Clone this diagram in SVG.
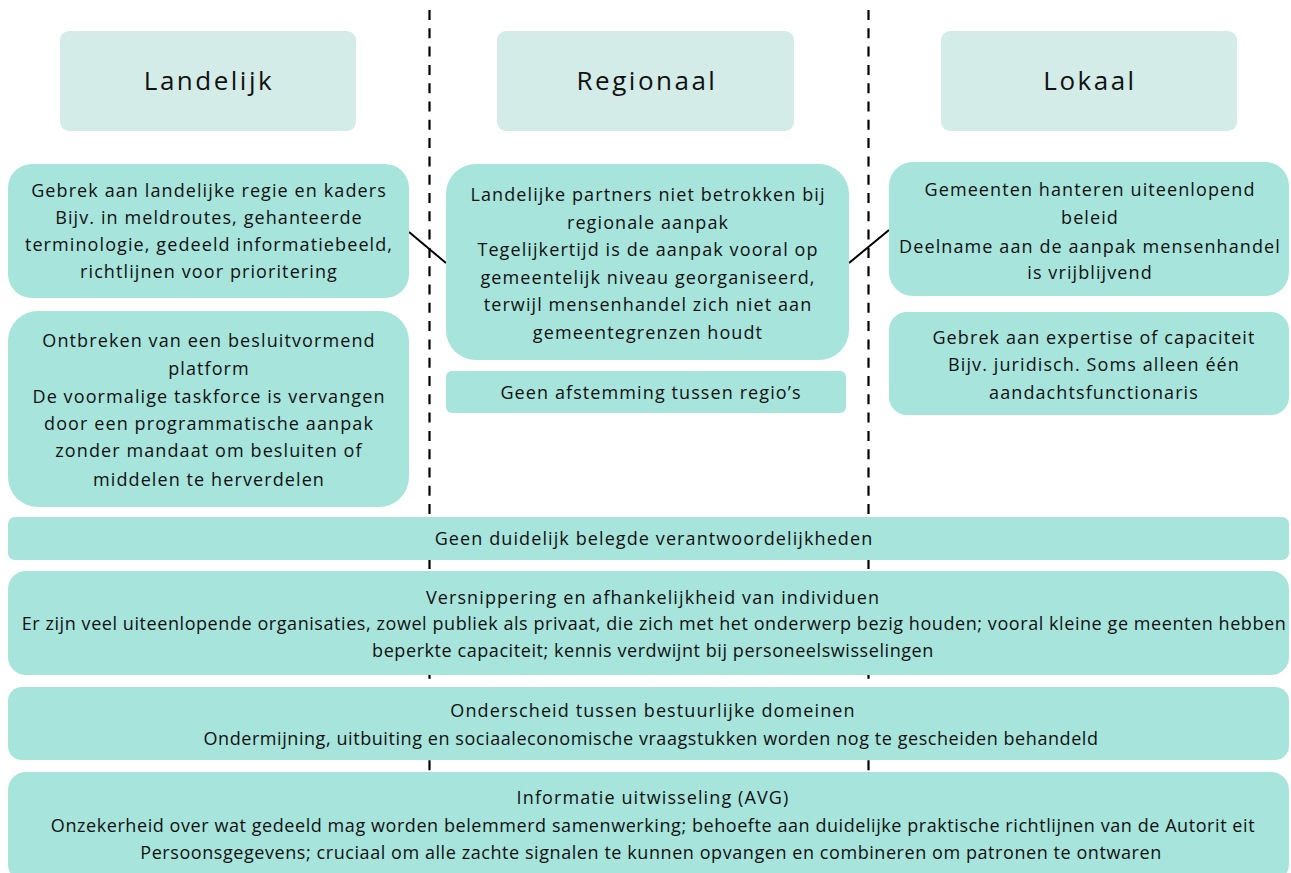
<svg xmlns="http://www.w3.org/2000/svg" width="1291" height="873" viewBox="0 0 1291 873">
<style>
.hdr{fill:#d3ece8}
.box{fill:#a6e4dc}
.t{font-family:"Open Sans","Liberation Sans",sans-serif;font-size:18px;letter-spacing:1.1px;fill:#111;text-anchor:middle}
.d{letter-spacing:0.57px}
.h{font-family:"Open Sans","Liberation Sans",sans-serif;font-size:26px;letter-spacing:2.5px;fill:#111;text-anchor:middle}
.dash{stroke:#000;stroke-width:2.2;stroke-dasharray:10 8.3;fill:none}
.conn{stroke:#000;stroke-width:2;fill:none}
</style>
<rect width="1291" height="873" fill="#fff"/>
<g id="dividers">
<line class="dash" x1="429.5" y1="10" x2="429.5" y2="772"/>
<line class="dash" x1="868.5" y1="10" x2="868.5" y2="772"/>
</g>
<g id="hdr-landelijk"><rect class="hdr" x="60" y="31" width="296" height="100" rx="9"/><text class="h" x="209" y="90">Landelijk</text></g>
<g id="hdr-regionaal"><rect class="hdr" x="497" y="31" width="297" height="100" rx="9"/><text class="h" x="647" y="90">Regionaal</text></g>
<g id="hdr-lokaal"><rect class="hdr" x="941" y="31" width="296" height="100" rx="9"/><text class="h" x="1090" y="90">Lokaal</text></g>
<g id="connectors">
<line class="conn" x1="409" y1="232" x2="446" y2="263"/>
<line class="conn" x1="849" y1="263" x2="889" y2="230"/>
</g>
<g id="l1"><rect class="box" x="8" y="164" width="401" height="134" rx="24"/>
<text class="t" x="209" y="197">Gebrek aan landelijke regie en kaders</text>
<text class="t" x="209" y="224">Bijv. in meldroutes, gehanteerde</text>
<text class="t" x="209" y="251">terminologie, gedeeld informatiebeeld,</text>
<text class="t" x="209" y="278">richtlijnen voor prioritering</text></g>
<g id="l2"><rect class="box" x="8" y="311" width="401" height="196" rx="30"/>
<text class="t" x="209" y="347">Ontbreken van een besluitvormend</text>
<text class="t" x="209" y="375">platform</text>
<text class="t" x="209" y="403">De voormalige taskforce is vervangen</text>
<text class="t" x="209" y="430">door een programmatische aanpak</text>
<text class="t" x="209" y="457">zonder mandaat om besluiten of</text>
<text class="t" x="209" y="486">middelen te herverdelen</text></g>
<g id="m1"><rect class="box" x="446" y="164" width="403" height="196" rx="30"/>
<text class="t" x="648" y="201">Landelijke partners niet betrokken bij</text>
<text class="t" x="648" y="229">regionale aanpak</text>
<text class="t" x="648" y="256">Tegelijkertijd is de aanpak vooral op</text>
<text class="t" x="648" y="284">gemeentelijk niveau georganiseerd,</text>
<text class="t" x="648" y="311">terwijl mensenhandel zich niet aan</text>
<text class="t" x="648" y="339">gemeentegrenzen houdt</text></g>
<g id="m2"><rect class="box" x="446" y="371" width="400" height="42" rx="6"/>
<text class="t" x="651" y="399">Geen afstemming tussen regio’s</text></g>
<g id="r1"><rect class="box" x="889" y="162" width="400" height="134" rx="24"/>
<text class="t" x="1090" y="196">Gemeenten hanteren uiteenlopend</text>
<text class="t" x="1090" y="224">beleid</text>
<text class="t" x="1090" y="253">Deelname aan de aanpak mensenhandel</text>
<text class="t" x="1090" y="279">is vrijblijvend</text></g>
<g id="r2"><rect class="box" x="889" y="312" width="400" height="103" rx="18"/>
<text class="t" x="1094" y="344">Gebrek aan expertise of capaciteit</text>
<text class="t" x="1094" y="371">Bijv. juridisch. Soms alleen één</text>
<text class="t" x="1094" y="399">aandachtsfunctionaris</text></g>
<g id="b1"><rect class="box" x="8" y="517" width="1281" height="43" rx="7"/>
<text class="t" x="654" y="545">Geen duidelijk belegde verantwoordelijkheden</text></g>
<g id="b2"><rect class="box" x="8" y="571" width="1281" height="104" rx="18"/>
<text class="t" x="653" y="604">Versnippering en afhankelijkheid van individuen</text>
<text class="t d" x="654" y="630">Er zijn veel uiteenlopende organisaties, zowel publiek als privaat, die zich met het onderwerp bezig houden; vooral kleine ge meenten hebben</text>
<text class="t d" x="653" y="657">beperkte capaciteit; kennis verdwijnt bij personeelswisselingen</text></g>
<g id="b3"><rect class="box" x="8" y="687" width="1281" height="73" rx="14"/>
<text class="t" x="653" y="717">Onderscheid tussen bestuurlijke domeinen</text>
<text class="t d" x="651" y="745">Ondermijning, uitbuiting en sociaaleconomische vraagstukken worden nog te gescheiden behandeld</text></g>
<g id="b4"><rect class="box" x="8" y="772" width="1281" height="110" rx="18"/>
<text class="t" x="653" y="804">Informatie uitwisseling (AVG)</text>
<text class="t d" x="653" y="832">Onzekerheid over wat gedeeld mag worden belemmerd samenwerking; behoefte aan duidelijke praktische richtlijnen van de Autorit eit</text>
<text class="t d" x="651" y="859">Persoonsgegevens; cruciaal om alle zachte signalen te kunnen opvangen en combineren om patronen te ontwaren</text></g>
</svg>
